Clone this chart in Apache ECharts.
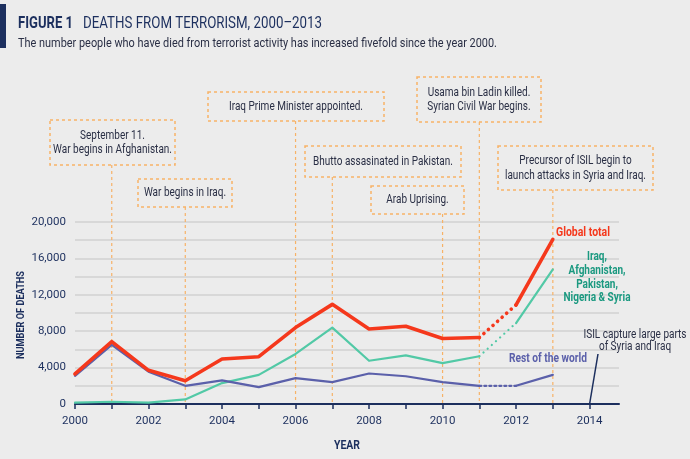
<!DOCTYPE html>
<html>
<head>
<meta charset="utf-8">
<script src="https://cdn.jsdelivr.net/npm/echarts@6/dist/echarts.min.js"></script>
<style>
html,body{margin:0;padding:0;background:#ececec;}
#c{width:690px;height:459px;}
</style>
</head>
<body>
<div id="c"></div>
<script>
// ---- data ----
var years = [2000,2001,2002,2003,2004,2005,2006,2007,2008,2009,2010,2011,2012,2013];
var globalTotal  = [3300,6850,3700,2550,4950,5200,8400,10950,8250,8550,7200,7300,10900,18100];
var fiveCountries = [150,250,150,500,2300,3200,5500,8400,4750,5350,4500,5250,8900,14800];
var restOfWorld  = [3100,6500,3550,2000,2600,1850,2850,2400,3350,3050,2400,2000,2000,3200];
var xTickYears = [2000,2001,2002,2003,2004,2005,2006,2007,2008,2009,2010,2011,2012,2013,2014];
var yLabelValues = [0,4000,8000,12000,16000,20000];
var annoYears = [2001,2003,2006,2007,2010,2011,2013];
var annoTexts = [
  'September 11.\nWar begins in Afghanistan.',
  'War begins in Iraq.',
  'Iraq Prime Minister appointed.',
  'Bhutto assasinated in Pakistan.',
  'Arab Uprising.',
  'Usama bin Ladin killed.\nSyrian Civil War begins.',
  'Precursor of ISIL begin to\nlaunch attacks in Syria and Iraq.'
];
var isilYear = 2014;
var isilText = 'ISIL capture large parts\nof Syria and Iraq';

// ---- layout / style ----
var F = "Roboto, 'Liberation Sans', sans-serif";
var NAVY = '#1c2f5e', RED = '#f5381c', TEAL = '#52c9a6', TEALTXT = '#1b9980', BLUE = '#5b60aa', ORANGE = '#f7b267', TXT = '#2a2f45';
var annoBoxes = [[50,120,175,165],[138,179,232,207],[208,92,384,121],[305,146,461,177],[371,186,464,214],[417,77,541,122],[498,146,653,190]];

var mctx = document.createElement('canvas').getContext('2d');
function textW(text, font){
  mctx.font = font;
  return Math.max.apply(null, text.split('\n').map(function(s){ return mctx.measureText(s).width; }));
}
function fit(text, font, target){ return target / textW(text, font); }

function pairs(vals){ return years.map(function(y,i){ return [y, vals[i]]; }); }
function segSeries(name, vals, color, width, dash, z){
  var p = pairs(vals);
  var base = {type:'line', showSymbol:false, symbol:'none', silent:true, z:z, animation:false};
  return [
    Object.assign({}, base, {name:name, data:p.slice(0,12), lineStyle:{color:color,width:width,cap:'round',join:'round'}}),
    Object.assign({}, base, {name:name+' est', data:p.slice(11,13), lineStyle:{color:color,width:width,type:dash,cap:'round'}}),
    Object.assign({}, base, {name:name+' 2', data:p.slice(12), lineStyle:{color:color,width:width,cap:'round',join:'round'}})
  ];
}

var chart = echarts.init(document.getElementById('c'), null, {renderer:'canvas'});
var option = {
  backgroundColor:'#ececec',
  animation:false,
  textStyle:{fontFamily:F},
  grid:{left:75, right:71, top:222, bottom:55},
  xAxis:{
    type:'value', min:2000, max:2014.8,
    axisLine:{show:true, lineStyle:{color:NAVY, width:2}},
    axisTick:{show:true, length:5, lineStyle:{color:NAVY, width:1.5}, customValues:xTickYears},
    axisLabel:{color:NAVY, fontSize:11.5, margin:11, fontFamily:F,
      customValues:xTickYears.filter(function(v){return v%2===0;}),
      formatter:function(v){return String(v);}},
    splitLine:{show:false}
  },
  yAxis:{
    type:'value', min:0, max:20000, interval:2000,
    axisLine:{show:false}, axisTick:{show:false},
    axisLabel:{color:NAVY, fontSize:11.5, margin:9, fontFamily:F, customValues:yLabelValues,
      formatter:function(v){return v.toLocaleString('en-US');}},
    splitLine:{show:true, lineStyle:{color:'#d2d2d2', width:1.5}}
  },
  series:[].concat(
    segSeries('Iraq, Afghanistan, Pakistan, Nigeria & Syria', fiveCountries, TEAL, 2.2, [0.1,5.5], 3),
    segSeries('Rest of the world', restOfWorld, BLUE, 2.2, [2,3], 4),
    segSeries('Global total', globalTotal, RED, 3.6, [0.1,6], 5)
  )
};
chart.setOption(option);

function px(x,y){ return chart.convertToPixel({gridIndex:0}, [x,y]); }
function txt(x, y, text, font, fill, target, extra){
  var st = Object.assign({text:text, font:font, fill:fill, verticalAlign:'middle'}, extra || {});
  return {type:'text', x:x, y:y, scaleX: target ? fit(text, font, target) : 1, style:st, z:10};
}
var g = [];
// title bar & titles
g.push({type:'rect', shape:{x:0,y:4,width:6,height:44}, style:{fill:NAVY}, z:10});
g.push(txt(18, 24, 'FIGURE 1', 'bold 17px '+F, NAVY, 55));
g.push(txt(83, 24, 'DEATHS FROM TERRORISM, 2000\u20132013', '17px '+F, NAVY, 239));
g.push(txt(18, 44, 'The number people who have died from terrorist activity has increased fivefold since the year 2000.', '13px '+F, TXT, 479));
// annotations
var baseY = px(2000,0)[1];
var aFont = '13px '+F;
var aScale = fit('Iraq Prime Minister appointed.', aFont, 134);
annoYears.forEach(function(yr,i){
  var b = annoBoxes[i];
  var x = px(yr,0)[0];
  g.push({type:'line', shape:{x1:x,y1:b[3],x2:x,y2:baseY}, style:{stroke:ORANGE, lineWidth:1.2, lineDash:[3,3]}, z:0});
  g.push({type:'rect', shape:{x:b[0],y:b[1],width:b[2]-b[0],height:b[3]-b[1]}, style:{fill:'none', stroke:ORANGE, lineWidth:1.5, lineDash:[3,3]}, z:0});
  g.push({type:'text', x:(b[0]+b[2])/2, y:(b[1]+b[3])/2, scaleX:aScale,
    style:{text:annoTexts[i], font:aFont, fill:TXT, align:'center', verticalAlign:'middle', lineHeight:14.5}, z:1});
});
// ISIL annotation
var ip = px(isilYear,0);
g.push({type:'line', shape:{x1:ip[0],y1:ip[1],x2:598,y2:354}, style:{stroke:NAVY, lineWidth:1.5}, z:6});
g.push(txt(635, 341, isilText, '12.5px '+F, TXT, 103, {align:'center', lineHeight:12.5}));
// series labels
var lf = 'bold 13px '+F;
g.push(txt(583, 233, 'Global total', lf, RED, 54, {align:'center'}));
var tealScale = fit('Nigeria & Syria', lf, 67);
g.push({type:'text', x:597, y:277.5, scaleX:tealScale, style:{text:'Iraq,\nAfghanistan,\nPakistan,\nNigeria & Syria', font:lf, fill:TEALTXT, align:'center', verticalAlign:'middle', lineHeight:13.7}, z:10});
g.push(txt(548, 359, 'Rest of the world', lf, BLUE, 78, {align:'center'}));
// axis names
g.push(txt(347, 446, 'YEAR', 'bold 12.5px '+F, NAVY, 26, {align:'center'}));
var yn = 'bold 11px '+F;
g.push({type:'text', x:21, y:315, rotation:Math.PI/2, scaleX:fit('NUMBER OF DEATHS', yn, 88),
  style:{text:'NUMBER OF DEATHS', font:yn, fill:NAVY, align:'center', verticalAlign:'middle'}, z:10});
chart.setOption({graphic:{elements:g}});
</script>
</body>
</html>
